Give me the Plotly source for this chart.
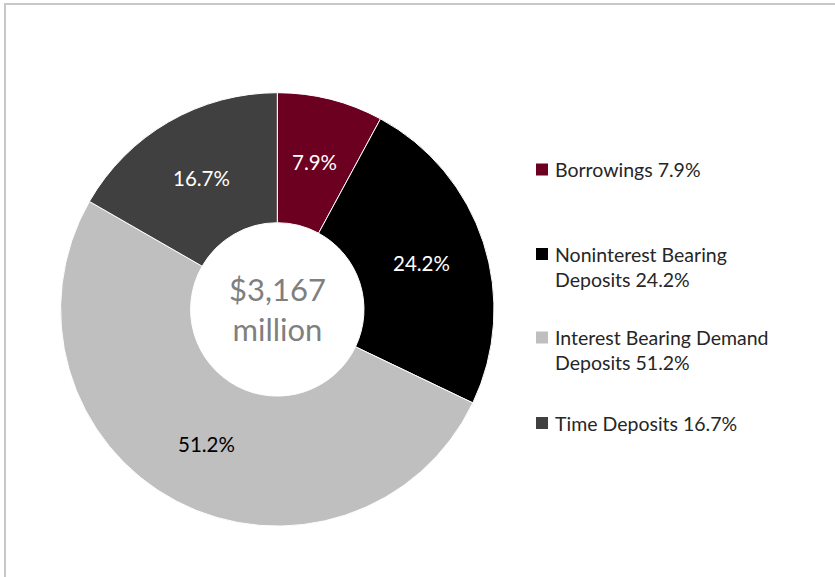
import math
import plotly.graph_objects as go

# Funding mix
categories = ["Borrowings", "Noninterest Bearing Deposits",
              "Interest Bearing Demand Deposits", "Time Deposits"]
shares = [7.9, 24.2, 51.2, 16.7]
legend_labels = ["Borrowings 7.9%", "Noninterest Bearing<br>Deposits 24.2%",
                 "Interest Bearing Demand<br>Deposits 51.2%", "Time Deposits 16.7%"]
total_label = "$3,167<br>million"

colors = ["#6B0020", "#000000", "#BFBFBF", "#404040"]
text_colors = ["#FFFFFF", "#FFFFFF", "#000000", "#FFFFFF"]

W, H = 835, 577
FONT = "Lato, Calibri, 'Liberation Sans', sans-serif"

# Donut placement (pixels)
cx, cy, r = 277.3, 309.4, 216.7
hole = 0.40

fig = go.Figure(go.Pie(
    labels=categories,
    values=shares,
    textinfo="none",
    hole=hole,
    sort=False,
    direction="clockwise",
    rotation=0,
    marker=dict(colors=colors, line=dict(color="#FFFFFF", width=1)),
    domain=dict(x=[(cx - r) / W, (cx + r) / W],
                y=[(H - cy - r) / H, (H - cy + r) / H]),
    showlegend=False,
    hoverinfo="label+percent",
))

annotations = []
shapes = []

# Percent labels centred in the ring at each slice's mid-angle
total = sum(shares)
r_mid = r * (1 + hole) / 2
cum = 0.0
for v, tc in zip(shares, text_colors):
    ang = 2 * math.pi * (cum + v / 2) / total
    cum += v
    px = cx + r_mid * math.sin(ang)
    py = cy - r_mid * math.cos(ang)
    annotations.append(dict(
        text=f"{v:.1f}%", x=px / W, y=1 - py / H, xref="paper", yref="paper",
        xanchor="center", yanchor="middle", showarrow=False,
        font=dict(family=FONT, size=20.5, color=tc),
    ))

# Legend drawn beside the donut
legend_x_box = 536
legend_box = 12
legend_text_x = 553
legend_first_line_y = [169.5, 254, 337.5, 423]
legend_font = 19.5
line_gap = 1.3 * legend_font

for lbl, col, y0 in zip(legend_labels, colors, legend_first_line_y):
    n_lines = lbl.count("<br>") + 1
    mid = y0 + (n_lines - 1) * line_gap / 2
    annotations.append(dict(
        text=lbl, x=legend_text_x / W, y=1 - mid / H, xref="paper", yref="paper",
        xanchor="left", yanchor="middle", align="left", showarrow=False,
        font=dict(family=FONT, size=legend_font, color="#262626"),
    ))
    shapes.append(dict(
        type="rect", xref="paper", yref="paper",
        x0=legend_x_box / W, x1=(legend_x_box + legend_box) / W,
        y0=1 - (y0 + legend_box / 2) / H, y1=1 - (y0 - legend_box / 2) / H,
        fillcolor=col, line=dict(width=0),
    ))

# Total in the hole
annotations.append(dict(
    text=total_label, x=cx / W, y=1 - cy / H, xref="paper", yref="paper",
    xanchor="center", yanchor="middle", align="center", showarrow=False,
    font=dict(family=FONT, size=31, color="#7F7F7F"),
))

# Chart-area frame
shapes.append(dict(
    type="rect", xref="paper", yref="paper",
    x0=5 / W, x1=1.02, y0=-0.02, y1=1 - 4 / H,
    line=dict(color="#C8C8C8", width=2), fillcolor="rgba(0,0,0,0)", layer="below",
))

fig.update_layout(
    width=W, height=H,
    margin=dict(l=0, r=0, t=0, b=0),
    paper_bgcolor="#FFFFFF",
    plot_bgcolor="#FFFFFF",
    annotations=annotations,
    shapes=shapes,
)

fig.write_html("out.html")
